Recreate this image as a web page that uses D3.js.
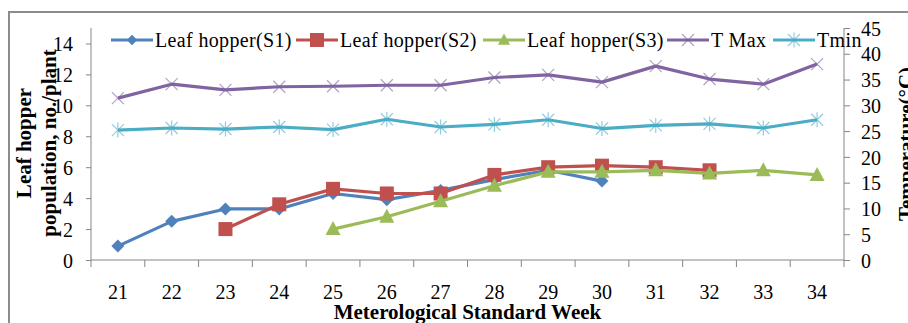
<!DOCTYPE html>
<html>
<head>
<meta charset="utf-8">
<script src="https://cdn.jsdelivr.net/npm/d3@7"></script>
<style>
  body { margin: 0; background: #fff; }
  svg { display: block; font-family: "Liberation Serif", "Times New Roman", serif; }
</style>
</head>
<body>
<div id="chart"></div>
<script>

// ###################### DATA ######################
const weeks = [21, 22, 23, 24, 25, 26, 27, 28, 29, 30, 31, 32, 33, 34]
const s1 = [0.9, 2.5, 3.3, 3.3, 4.3, 3.9, 4.5, 5.2, 5.8, 5.1, null, null, null, null]
const s2 = [null, null, 2.0, 3.6, 4.6, 4.3, 4.3, 5.5, 6.0, 6.1, 6.0, 5.8, null, null]
const s3 = [null, null, null, null, 2.0, 2.8, 3.8, 4.8, 5.7, 5.7, 5.8, 5.6, 5.8, 5.5]
const tMax = [31.4, 34.1, 33.0, 33.6, 33.7, 33.9, 33.9, 35.4, 35.9, 34.5, 37.6, 35.1, 34.1, 38.0]
const tMin = [25.2, 25.6, 25.4, 25.8, 25.3, 27.3, 25.8, 26.3, 27.2, 25.5, 26.1, 26.4, 25.6, 27.2]
const leftTicks = [0, 2, 4, 6, 8, 10, 12, 14]
const rightTicks = [0, 5, 10, 15, 20, 25, 30, 35, 40, 45]

const series = [
  {name: "Leaf hopper(S1)", values: s1, axis: "L", color: "#4F81BD", marker: "diamond", lx: 111},
  {name: "Leaf hopper(S2)", values: s2, axis: "L", color: "#C0504D", marker: "square", lx: 296},
  {name: "Leaf hopper(S3)", values: s3, axis: "L", color: "#9BBB59", marker: "triangle", lx: 483},
  {name: "T Max", values: tMax, axis: "R", color: "#8064A2", marker: "x", lx: 667},
  {name: "Tmin", values: tMin, axis: "R", color: "#4BACC6", marker: "star", lx: 773}
]

const width = 908
const height = 323
const plot = {left: 91, right: 844, top: 28, bottom: 260}
const axisColor = "#868686"

let svg = d3.select("#chart").append("svg")
            .attr("width", width)
            .attr("height", height)

// outer chart border (right and bottom fall outside the picture)
svg.append("rect")
   .attr("x", 9).attr("y", 12)
   .attr("width", 940).attr("height", 340)
   .attr("fill", "none")
   .attr("stroke", "#8c8c8c")
   .attr("stroke-width", 2)

// ###################### SCALES ######################
var x = d3.scaleBand()
          .domain(weeks)
          .range([plot.left, plot.right])
var yL = d3.scaleLinear().domain([0, 15]).range([plot.bottom, plot.top])
var yR = d3.scaleLinear().domain([0, 45]).range([plot.bottom, plot.top])

// ###################### AXES ######################
let axisL = svg.append("g")
               .attr("transform", "translate(" + plot.left + ",0)")
               .call(d3.axisLeft(yL).tickValues(leftTicks).tickSize(5).tickPadding(13))
let axisR = svg.append("g")
               .attr("transform", "translate(" + plot.right + ",0)")
               .call(d3.axisRight(yR).tickValues(rightTicks).tickSize(6).tickPadding(11))
let axisX = svg.append("g")
               .attr("transform", "translate(0," + plot.bottom + ")")
               .call(d3.axisBottom(x).tickSize(0).tickPadding(25))

;[axisL, axisR, axisX].forEach(function(a){
  a.select(".domain").remove()
  a.selectAll("line").attr("stroke", axisColor)
  a.selectAll("text")
   .attr("font-family", "Liberation Serif, serif")
   .attr("font-size", 20)
   .attr("fill", "#000")
})
axisL.selectAll("text").attr("dy", "0.36em")
axisR.selectAll("text").attr("dy", "0.36em")

// axis lines
svg.append("line")
   .attr("x1", plot.left).attr("x2", plot.left)
   .attr("y1", plot.top).attr("y2", plot.bottom)
   .attr("stroke", axisColor)
svg.append("line")
   .attr("x1", plot.right).attr("x2", plot.right)
   .attr("y1", plot.top).attr("y2", plot.bottom)
   .attr("stroke", axisColor)
svg.append("line")
   .attr("x1", plot.left).attr("x2", plot.right)
   .attr("y1", plot.bottom).attr("y2", plot.bottom)
   .attr("stroke", axisColor)

// category boundary ticks on the x axis
let bounds = weeks.map(d => x(d)).concat([x(weeks[weeks.length - 1]) + x.bandwidth()])
svg.append("g").selectAll("line")
   .data(bounds)
   .enter().append("line")
   .attr("x1", d => d).attr("x2", d => d)
   .attr("y1", plot.bottom).attr("y2", plot.bottom + 7)
   .attr("stroke", axisColor)

// ###################### TITLES ######################
let leftTitle = svg.append("text")
                   .attr("transform", "translate(0,143) rotate(-90)")
                   .attr("text-anchor", "middle")
                   .attr("font-weight", "bold")
                   .attr("font-size", 21)
leftTitle.append("tspan").attr("x", 0).attr("y", 31).text("Leaf hopper")
leftTitle.append("tspan").attr("x", 0).attr("y", 56).text("population, no./plant")

svg.append("text")
   .attr("transform", "translate(913,144) rotate(-90)")
   .attr("text-anchor", "middle")
   .attr("font-weight", "bold")
   .attr("font-size", 21)
   .text("Temperature(°C)")

svg.append("text")
   .attr("x", (plot.left + plot.right) / 2)
   .attr("y", 319)
   .attr("text-anchor", "middle")
   .attr("font-weight", "bold")
   .attr("font-size", 21)
   .text("Meterological Standard Week")

// ###################### MARKERS ######################
function drawMarker(g, type, color){
  if (type == "diamond") {
    g.append("path").attr("d", "M0,-6.5L6.5,0L0,6.5L-6.5,0Z").attr("fill", color)
  } else if (type == "square") {
    g.append("rect").attr("x", -7).attr("y", -7).attr("width", 14).attr("height", 14).attr("fill", color)
  } else if (type == "triangle") {
    g.append("path").attr("d", "M0,-8L7.5,6L-7.5,6Z").attr("fill", color)
  } else if (type == "x") {
    g.append("path").attr("d", "M-6,-6L6,6M-6,6L6,-6")
     .attr("stroke", color).attr("stroke-width", 1.2).attr("opacity", 0.6)
  } else if (type == "star") {
    g.append("path").attr("d", "M-6,-6L6,6M-6,6L6,-6M0,-7.5L0,7.5")
     .attr("stroke", color).attr("stroke-width", 1.2).attr("opacity", 0.6)
  }
}

// ###################### LINES ######################
series.forEach(function(s){
  let yS = s.axis == "L" ? yL : yR
  let pts = weeks.map((w, i) => ({w: w, v: s.values[i]})).filter(d => d.v !== null)
  let line = d3.line()
               .x(d => x(d.w) + x.bandwidth() / 2)
               .y(d => yS(d.v))
  svg.append("path")
     .datum(pts)
     .attr("d", line)
     .attr("fill", "none")
     .attr("stroke", s.color)
     .attr("stroke-width", 3.2)
     .attr("stroke-linejoin", "round")
  svg.append("g").selectAll("g")
     .data(pts)
     .enter().append("g")
     .attr("transform", d => "translate(" + (x(d.w) + x.bandwidth() / 2) + "," + yS(d.v) + ")")
     .each(function(){ drawMarker(d3.select(this), s.marker, s.color) })
})

// ###################### LEGEND ######################
series.forEach(function(s){
  let item = svg.append("g").attr("transform", "translate(" + s.lx + ",40)")
  item.append("line")
      .attr("x1", 0).attr("x2", 42)
      .attr("stroke", s.color)
      .attr("stroke-width", 3.2)
  let m = item.append("g").attr("transform", "translate(21,0)")
  drawMarker(m, s.marker, s.color)
  if (s.marker == "diamond" || s.marker == "triangle") m.attr("transform", "translate(21,0) scale(0.8)")
  item.append("text")
      .attr("x", 44).attr("y", 7)
      .attr("font-size", 20)
      .attr("letter-spacing", 0.35)
      .text(s.name)
})

</script>
</body>
</html>
